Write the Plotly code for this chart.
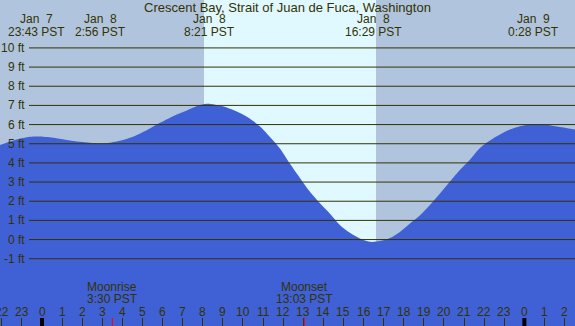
import plotly.graph_objects as go

TITLE = "Crescent Bay, Strait of Juan de Fuca, Washington"

# Tide height (ft), hours from Jan 8 00:00 PST
TIDE_HOURS = [-2.09, -1.34, -0.60, -0.10, 0.65, 1.24, 1.89, 2.39, 2.89, 3.23,
              3.88, 4.53, 5.37, 5.87, 6.52, 7.21, 7.86, 8.36, 9.00, 9.85,
              10.35, 10.85, 11.34, 11.84, 12.34, 12.84, 13.33, 13.83, 14.33, 14.83,
              15.32, 15.82, 16.32, 16.82, 17.31, 17.81, 18.31, 18.81, 19.30, 19.80,
              20.30, 20.80, 21.29, 21.79, 22.29, 22.79, 23.28, 23.78, 24.28, 24.93,
              25.62, 26.52]
TIDE_FT = [4.93, 5.20, 5.36, 5.38, 5.30, 5.20, 5.10, 5.05, 5.02, 5.04,
           5.16, 5.37, 5.80, 6.09, 6.44, 6.74, 7.02, 7.08, 6.95, 6.60,
           6.30, 5.90, 5.35, 4.75, 3.95, 3.20, 2.50, 1.90, 1.35, 0.75,
           0.35, 0.05, -0.12, -0.08, 0.08, 0.40, 0.84, 1.27, 1.80, 2.40,
           3.03, 3.64, 4.17, 4.78, 5.17, 5.48, 5.74, 5.91, 6.00, 6.00,
           5.90, 5.74]

EVENT_HOURS = [-0.283, 2.933, 8.35, 16.483, 24.467]
EVENT_DATES = ["Jan\u00a0\u00a07", "Jan\u00a0\u00a08", "Jan\u00a0\u00a08", "Jan\u00a0\u00a08", "Jan\u00a0\u00a09"]
EVENT_TIMES = ["23:43 PST", "2:56 PST", "8:21 PST", "16:29 PST", "0:28 PST"]

MOON_HOURS = [3.5, 13.05]
MOON_NAMES = ["Moonrise", "Moonset"]
MOON_TIMES = ["3:30 PST", "13:03 PST"]

SUNRISE_H = 8.06
SUNSET_H = 16.62

HOUR_TICKS = [-2, -1, 0, 1, 2, 3, 4, 5, 6, 7, 8, 9, 10, 11, 12, 13, 14, 15, 16,
              17, 18, 19, 20, 21, 22, 23, 24, 25, 26]
HOUR_LABELS = ["22", "23", "0", "1", "2", "3", "4", "5", "6", "7", "8", "9", "10",
               "11", "12", "13", "14", "15", "16", "17", "18", "19", "20", "21",
               "22", "23", "0", "1", "2"]
MIDNIGHTS = [0, 24]

FT_LEVELS = [-1, 0, 1, 2, 3, 4, 5, 6, 7, 8, 9, 10]
FT_LABELS = ["-1 ft", "0 ft", "1 ft", "2 ft", "3 ft", "4 ft", "5 ft", "6 ft",
             "7 ft", "8 ft", "9 ft", "10 ft"]

X_RANGE = [-2.09, 26.52]
Y_RANGE = [-4.51, 12.5]

W, H = 575, 326
NIGHT = "#b0c4de"
DAY = "#e0f8ff"
WATER = "#4060d6"
INK = "#333300"
FONT = "Liberation Sans, Arial, sans-serif"


def py(pix):
    return (H - pix) / H


fig = go.Figure()
fig.add_trace(go.Scatter(x=[TIDE_HOURS[0], TIDE_HOURS[-1]], y=[Y_RANGE[0], Y_RANGE[0]],
                         mode="lines", line=dict(width=0, color=WATER),
                         hoverinfo="skip", showlegend=False))
fig.add_trace(go.Scatter(x=TIDE_HOURS, y=TIDE_FT, mode="lines",
                         line=dict(width=0, color=WATER, shape="spline", smoothing=0.8),
                         fill="tonexty", fillcolor=WATER, showlegend=False))

shapes = [dict(type="rect", xref="x", yref="paper", x0=SUNRISE_H, x1=SUNSET_H,
               y0=0, y1=1, fillcolor=DAY, line=dict(width=0), layer="below")]
for v in FT_LEVELS:
    shapes.append(dict(type="line", xref="paper", yref="y", x0=29 / W, x1=1, y0=v, y1=v,
                       line=dict(color=INK, width=1), layer="above"))
for m in MIDNIGHTS:
    shapes.append(dict(type="line", xref="x", yref="paper", x0=m, x1=m,
                       y0=0, y1=8 / H, line=dict(color="#000000", width=4), layer="above"))
for m in MOON_HOURS:
    shapes.append(dict(type="line", xref="x", yref="paper", x0=m, x1=m,
                       y0=0, y1=8 / H, line=dict(color="#ff0000", width=1), layer="above"))

ann = []
f12 = dict(family=FONT, size=12, color=INK)
f13 = dict(family=FONT, size=13, color=INK)
ann.append(dict(text=TITLE, xref="paper", yref="paper", x=0.5, y=py(8),
                xanchor="center", yanchor="middle", showarrow=False, font=f13))
for h, d, t in zip(EVENT_HOURS, EVENT_DATES, EVENT_TIMES):
    ann.append(dict(text=d, xref="x", yref="paper", x=h, y=py(19), xanchor="center",
                    yanchor="middle", showarrow=False, font=f12))
    ann.append(dict(text=t, xref="x", yref="paper", x=h, y=py(31.5), xanchor="center",
                    yanchor="middle", showarrow=False, font=f12))
for h, n, t in zip(MOON_HOURS, MOON_NAMES, MOON_TIMES):
    ann.append(dict(text=n, xref="x", yref="paper", x=h, y=py(287.3), xanchor="center",
                    yanchor="middle", showarrow=False, font=f12))
    ann.append(dict(text=t, xref="x", yref="paper", x=h, y=py(299.3), xanchor="center",
                    yanchor="middle", showarrow=False, font=f12))
for h, lab in zip(HOUR_TICKS, HOUR_LABELS):
    ann.append(dict(text=lab, xref="x", yref="paper", x=h, y=py(311.7), xanchor="center",
                    yanchor="middle", showarrow=False, font=f12))
for v, lab in zip(FT_LEVELS, FT_LABELS):
    ann.append(dict(text=lab, xref="paper", yref="y", x=27 / W, y=v, xanchor="right",
                    yanchor="middle", showarrow=False, font=f12))

fig.update_layout(
    width=W, height=H, margin=dict(l=0, r=0, t=0, b=0),
    paper_bgcolor=NIGHT, plot_bgcolor=NIGHT,
    shapes=shapes, annotations=ann, showlegend=False,
    xaxis=dict(range=X_RANGE, showgrid=False, zeroline=False, showline=False,
               tickvals=HOUR_TICKS, ticks="inside", ticklen=8, tickwidth=1,
               tickcolor=INK, showticklabels=False, fixedrange=True),
    yaxis=dict(range=Y_RANGE, showgrid=False, zeroline=False, showline=False,
               showticklabels=False, ticks="", fixedrange=True),
)

fig.write_html("out.html", config={"displayModeBar": False},
               post_script="document.body.style.margin='0';document.body.style.overflow='hidden';")
